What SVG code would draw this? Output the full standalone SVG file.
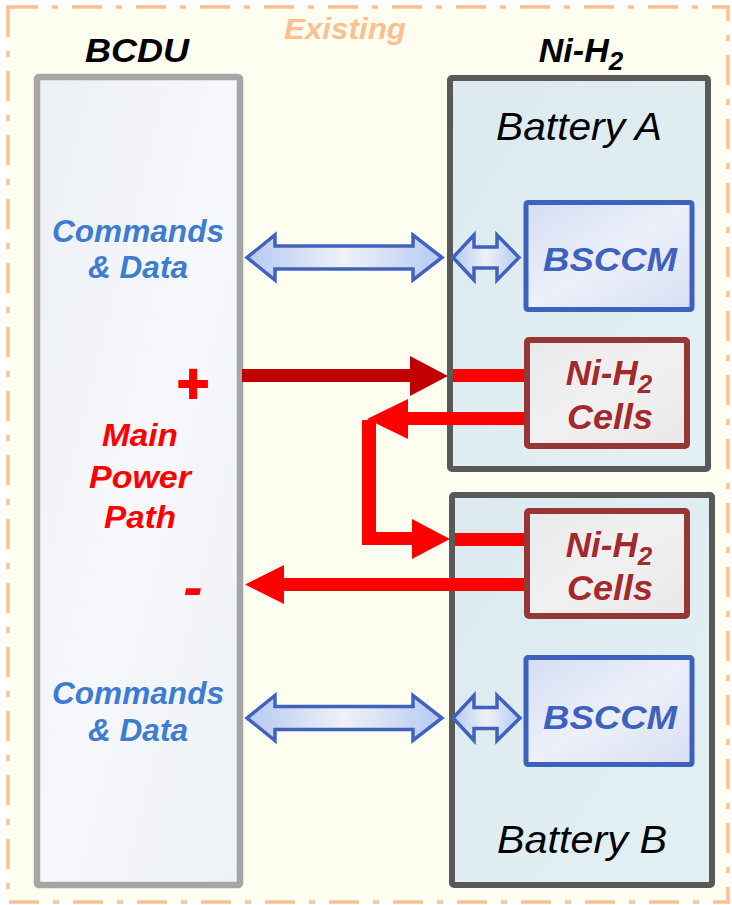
<svg xmlns="http://www.w3.org/2000/svg" width="732" height="905" viewBox="0 0 732 905">
<defs>
<linearGradient id="gBcdu" x1="0" y1="0" x2="1" y2="1">
<stop offset="0" stop-color="#ECEFF4"/><stop offset="0.5" stop-color="#F6F8FB"/><stop offset="1" stop-color="#EEF1F5"/>
</linearGradient>
<linearGradient id="gBat" x1="0" y1="0" x2="1" y2="1">
<stop offset="0" stop-color="#DCEAF0"/><stop offset="1" stop-color="#E3F0F3"/>
</linearGradient>
<linearGradient id="gBsccm" x1="0" y1="0" x2="1" y2="1">
<stop offset="0" stop-color="#D5DDF3"/><stop offset="0.5" stop-color="#EDF0FA"/><stop offset="1" stop-color="#D8DFF3"/>
</linearGradient>
<linearGradient id="gCells" x1="0" y1="0" x2="1" y2="1">
<stop offset="0" stop-color="#E9E9EA"/><stop offset="0.5" stop-color="#F1F1F1"/><stop offset="1" stop-color="#E8E8E9"/>
</linearGradient>
<linearGradient id="gArrow" x1="0" y1="0" x2="1" y2="0">
<stop offset="0" stop-color="#B5C9F2"/><stop offset="0.5" stop-color="#EFF1F7"/><stop offset="1" stop-color="#B5C9F2"/>
</linearGradient>
<style>
.t{font-family:"Liberation Sans",Arial,sans-serif;font-weight:bold;font-style:italic}
.ti{font-family:"Liberation Sans",Arial,sans-serif;font-style:italic;fill:#000}
.cmd{fill:#3C7DD1;font-size:31px}
.bs{fill:#3D62BE;font-size:33px}
.cl{fill:#A3292C;font-size:35px}
.red{fill:#FF0000}
.darr{fill:url(#gArrow);stroke:#3F62BF;stroke-width:3.5;stroke-linejoin:miter}
</style>
</defs>
<rect width="732" height="905" fill="#FFFFFF"/>
<rect x="8" y="7" width="720" height="895" fill="#FEFEF0" stroke="#FAC090" stroke-width="3.5" stroke-dasharray="30 14 6 14"/>
<text class="t" x="345" y="39" font-size="29" fill="#FAC08F" text-anchor="middle" textLength="122" lengthAdjust="spacingAndGlyphs">Existing</text>

<g id="bcdu">
<rect x="37" y="77" width="203" height="808" rx="2" fill="url(#gBcdu)" stroke="#A5A5A5" stroke-width="6.5"/>
<text class="t" x="137" y="62" font-size="34" fill="#000" text-anchor="middle" textLength="104" lengthAdjust="spacingAndGlyphs">BCDU</text>
<text class="t cmd" x="138" y="242" text-anchor="middle" textLength="172" lengthAdjust="spacingAndGlyphs">Commands</text>
<text class="t cmd" x="138" y="278" text-anchor="middle" textLength="100" lengthAdjust="spacingAndGlyphs">&amp; Data</text>
<text class="t cmd" x="138" y="704" text-anchor="middle" textLength="172" lengthAdjust="spacingAndGlyphs">Commands</text>
<text class="t cmd" x="138" y="741" text-anchor="middle" textLength="100" lengthAdjust="spacingAndGlyphs">&amp; Data</text>
<text class="t red" x="140" y="446" font-size="31" text-anchor="middle" textLength="76" lengthAdjust="spacingAndGlyphs">Main</text>
<text class="t red" x="140" y="488" font-size="31" text-anchor="middle" textLength="102" lengthAdjust="spacingAndGlyphs">Power</text>
<text class="t red" x="140" y="528" font-size="31" text-anchor="middle" textLength="72" lengthAdjust="spacingAndGlyphs">Path</text>
<text class="t red" x="192" y="402" font-size="55" text-anchor="middle" font-style="normal" stroke="#FF0000" stroke-width="2">+</text>
<text class="t red" x="193" y="607" font-size="58" text-anchor="middle">-</text>
</g>

<g id="battery-a">
<rect x="450" y="78" width="258" height="391" rx="2" fill="url(#gBat)" stroke="#595959" stroke-width="6"/>
<text class="t" x="581" y="62" font-size="34" fill="#000" text-anchor="middle">Ni-H<tspan font-size="26" dy="8">2</tspan></text>
<text class="ti" x="579" y="140" font-size="39" text-anchor="middle" textLength="166" lengthAdjust="spacingAndGlyphs">Battery A</text>
</g>

<g id="battery-b">
<rect x="452" y="495" width="260" height="390" rx="2" fill="url(#gBat)" stroke="#595959" stroke-width="6"/>
<text class="ti" x="582" y="853" font-size="39" text-anchor="middle" textLength="170" lengthAdjust="spacingAndGlyphs">Battery B</text>
</g>

<g id="connectors">
<polygon class="darr" points="247,257.5 275,235 275,246 413,246 413,235 442,257.5 413,280 413,269 275,269 275,280"/>
<polygon class="darr" points="453,257.5 474,235 474,247 497,247 497,235 519,257.5 497,280 497,268 474,268 474,280"/>
<polygon class="darr" points="247,718 275,695.5 275,706.5 413,706.5 413,695.5 442,718 413,740.5 413,729.5 275,729.5 275,740.5"/>
<polygon class="darr" points="453,718 474,695.5 474,707.5 497,707.5 497,695.5 520,718 497,740.5 497,728.5 474,728.5 474,740.5"/>
<polygon fill="#C00000" points="242,369 410,369 410,356 448,376 410,396 410,382 242,382"/>
<rect class="red" x="453" y="369" width="74" height="13"/>
<rect class="red" x="404" y="412" width="123" height="13"/>
<polygon class="red" points="408,399 367,419 408,439"/>
<rect class="red" x="362" y="420" width="14" height="125"/>
<rect class="red" x="362" y="532" width="52" height="13"/>
<polygon class="red" points="412,519 450,539 412,559"/>
<rect class="red" x="455" y="533" width="72" height="13"/>
<polygon class="red" points="527,578 284,578 284,565 245,584.5 284,604 284,591 527,591"/>
</g>

<g id="bsccm-a">
<rect x="526" y="202.5" width="166" height="107" rx="2" fill="url(#gBsccm)" stroke="#3D62BE" stroke-width="5"/>
<text class="t bs" x="610" y="271" text-anchor="middle" textLength="134" lengthAdjust="spacingAndGlyphs">BSCCM</text>
</g>
<g id="cells-a">
<rect x="527" y="340" width="160" height="106" rx="2" fill="url(#gCells)" stroke="#953735" stroke-width="6"/>
<text class="t cl" x="609" y="385" text-anchor="middle">Ni-H<tspan font-size="26" dy="8">2</tspan></text>
<text class="t cl" x="610" y="429" text-anchor="middle" textLength="86" lengthAdjust="spacingAndGlyphs">Cells</text>
</g>
<g id="cells-b">
<rect x="527" y="511" width="160" height="105" rx="2" fill="url(#gCells)" stroke="#953735" stroke-width="6"/>
<text class="t cl" x="609" y="557" text-anchor="middle">Ni-H<tspan font-size="26" dy="8">2</tspan></text>
<text class="t cl" x="610" y="600" text-anchor="middle" textLength="86" lengthAdjust="spacingAndGlyphs">Cells</text>
</g>
<g id="bsccm-b">
<rect x="526" y="657.5" width="166" height="107" rx="2" fill="url(#gBsccm)" stroke="#3D62BE" stroke-width="5"/>
<text class="t bs" x="610" y="729" text-anchor="middle" textLength="134" lengthAdjust="spacingAndGlyphs">BSCCM</text>
</g>
</svg>
